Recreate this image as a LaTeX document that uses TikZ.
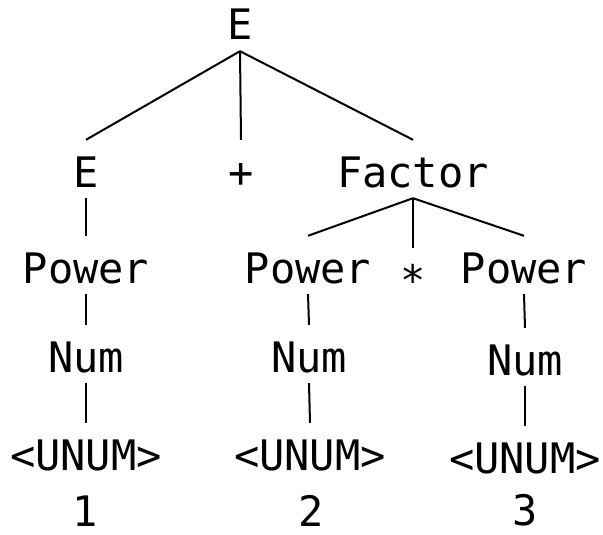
\documentclass[tikz,border=0pt]{standalone}
\usepackage{fontspec}
\newfontfamily\treefont{DejaVu Sans Mono}

\tikzset{
  sym/.style={font=\treefont\fontsize{42}{50}\selectfont, inner sep=0pt, anchor=base,
    text height=47pt, text depth=11pt},
  leaf/.style={sym, text depth=0pt},
  branch/.style={line width=2pt}
}

\begin{document}
\begin{tikzpicture}[x=1pt, y=-1pt]
	\useasboundingbox (0,0) rectangle (603,535);

	\node [sym] (top) at (240,40) {E};

	\node [sym] (sum) at (86,187) {E};
	\node [sym] (plus) at (241,187) {+};
	\node [sym] (factor) at (413,187) {Factor};

	\node [sym] (powA) at (86,283) {Power};
	\node [sym] (powB) at (308,283) {Power};
	\node [sym] (times) at (413,295) {*};
	\node [sym] (powC) at (524,283) {Power};

	\node [sym] (numA) at (86,372) {Num};
	\node [sym] (numB) at (309,372) {Num};
	\node [sym] (numC) at (525,375) {Num};

	\node [sym] (unumA) at (86,470) {<UNUM>};
	\node [sym] (unumB) at (310,470) {<UNUM>};
	\node [sym] (unumC) at (525,473) {<UNUM>};

	\node [leaf] (one) at (85,526) {1};
	\node [leaf] (two) at (311,526) {2};
	\node [leaf] (three) at (525,525.5) {3};

	\draw [branch] (top.south) -- (sum.north);
	\draw [branch] (top.south) -- (plus.north);
	\draw [branch] (top.south) -- (factor.north);

	\draw [branch] (factor.south) -- (powB.north);
	\draw [branch] (factor.south) -- (times.north);
	\draw [branch] (factor.south) -- (powC.north);

	\draw [branch] (sum.south) -- (powA.north);
	\draw [branch] (powA.south) -- (numA.north);
	\draw [branch] (numA.south) -- (unumA.north);

	\draw [branch] (powB.south) -- (numB.north);
	\draw [branch] (numB.south) -- (unumB.north);

	\draw [branch] (powC.south) -- (numC.north);
	\draw [branch] (numC.south) -- (unumC.north);
\end{tikzpicture}
\end{document}
